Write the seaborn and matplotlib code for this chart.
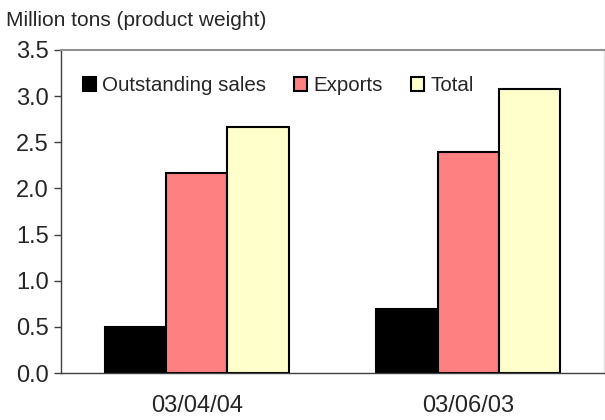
import matplotlib
matplotlib.use("Agg")
import matplotlib.pyplot as plt
from matplotlib.patches import Patch
import seaborn as sns
import pandas as pd

categories = ["03/04/04", "03/06/03"]
series_names = ["Outstanding sales", "Exports", "Total"]
outstanding_sales = [0.50, 0.69]
exports = [2.17, 2.40]
total = [2.67, 3.08]
y_ticks = [0.0, 0.5, 1.0, 1.5, 2.0, 2.5, 3.0, 3.5]
colors = ["#000000", "#FF8080", "#FFFFCC"]
ylabel = "Million tons (product weight)"

rows = []
for name, vals in zip(series_names, [outstanding_sales, exports, total]):
    for c, v in zip(categories, vals):
        rows.append({"date": c, "series": name, "value": v})
df = pd.DataFrame(rows)

sns.set_style("white")
plt.rcParams["font.family"] = ["Liberation Sans", "DejaVu Sans"]

fig = plt.figure(figsize=(6.05, 4.2), dpi=100)
ax = fig.add_axes([61 / 605, 47 / 420, 543 / 605, 323 / 420])

sns.barplot(data=df, x="date", y="value", hue="series", order=categories,
            hue_order=series_names, palette=colors, width=0.676, gap=0,
            edgecolor="black", linewidth=1.5, legend=False, ax=ax,
            errorbar=None, saturation=1)

ax.set_ylim(0, 3.5)
ax.set_xlim(-0.5, 1.5)
ax.set_yticks(y_ticks)
ax.set_yticklabels([f"{t:.1f}" for t in y_ticks], fontsize=17)
ax.set_xticks(range(len(categories)))
ax.set_xticklabels(categories, fontsize=17)
ax.set_xticks([-0.5, 0.5], minor=True)
ax.tick_params(axis="x", which="major", length=0, pad=16)
ax.tick_params(axis="x", which="minor", length=7, width=1, color="#404040", direction="out")
ax.tick_params(axis="y", which="major", length=5, width=1, color="#404040", direction="out", pad=4, left=True)
ax.set_xlabel("")
ax.set_ylabel("")

for side in ["left", "bottom"]:
    ax.spines[side].set_color("#404040")
    ax.spines[side].set_linewidth(1)
ax.spines["top"].set_color("#909090")
ax.spines["top"].set_linewidth(1.5)
ax.spines["right"].set_color("#E0E0E0")
ax.spines["right"].set_linewidth(1)

handles = [Patch(facecolor=c, edgecolor="black", linewidth=1.5) for c in colors]
ax.legend(handles, series_names, ncol=3, frameon=False, loc="upper left",
          bbox_to_anchor=(0.025, 0.945), fontsize=14.8, handlelength=0.65,
          handleheight=0.65, handletextpad=0.3, columnspacing=1.35,
          borderaxespad=0)

fig.text(6 / 605, 1 - 20 / 420, ylabel, fontsize=15, va="center", ha="left")

fig.savefig("out.png", dpi=100)
